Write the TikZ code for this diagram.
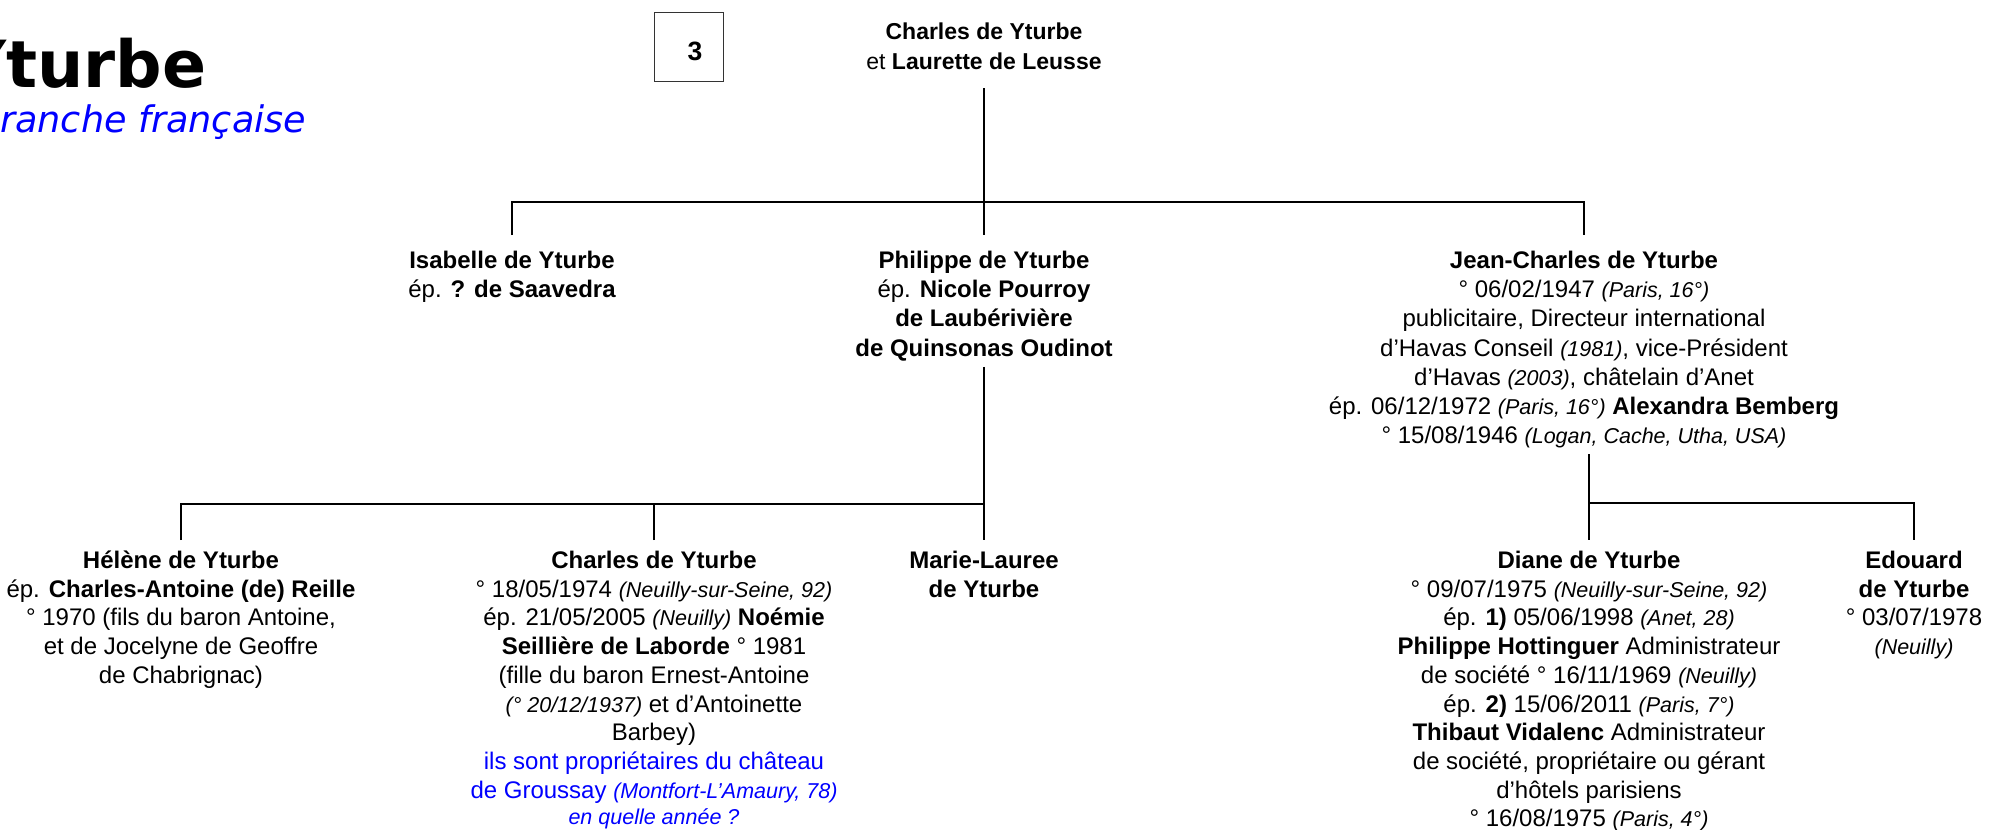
\documentclass[tikz,border=0pt]{standalone}
\usepackage{fontspec}
\setmainfont{Liberation Sans}
\newfontfamily\titlefont{DejaVu Sans}
\usepackage{tikz}
\definecolor{noteblue}{RGB}{0,0,255}
\newcommand{\lieu}[1]{{\fontsize{10.75}{14}\selectfont\itshape #1}}
\newcommand{\hname}[1]{\rule{0pt}{13.75pt}\textbf{#1}}
\tikzset{every picture/.style={line width=0.75pt}}
\tikzset{
  person/.style={align=center, anchor=north, inner sep=0pt},
  gen1/.style={person, outer sep=3pt, font=\fontsize{12}{14.6}\selectfont},
  gen2/.style={person, outer sep=0.5pt, font=\fontsize{12}{14.35}\selectfont},
  link/.style={line width=1.25pt},
}

\begin{document}
\begin{tikzpicture}[x=0.5pt,y=0.5pt,yscale=-1,xscale=1]
\useasboundingbox (0,0) rectangle (1992,830);

% Title
\node [anchor=base east, inner sep=0pt, font=\titlefont\bfseries\fontsize{32.5}{38}\selectfont] (title) at (207,87) {Yturbe};
\node [anchor=base east, inner sep=0pt, text=noteblue, font=\titlefont\itshape\fontsize{18.3}{22}\selectfont] (subtitle) at (307,132) {branche française};

%Shape: Square
\draw [line width=0.5pt, color=black!80] (654,12) rectangle (723,81);
% Text Node
\node [anchor=base, inner sep=0pt, font=\bfseries\fontsize{13.25}{15}\selectfont] (pagenum) at (695,61) {3};

% Text Node
\node [align=center, anchor=south, inner sep=0pt, outer sep=9pt, font=\fontsize{11.5}{15}\selectfont] (root) at (984,88) {{\bfseries Charles de Yturbe}\\ et {\bfseries Laurette de Leusse}};

% Text Node
\node [gen1] (isabelle) at (512,235) {\hname{Isabelle de Yturbe}\\ ép. {\bfseries ? de Saavedra}};
% Text Node
\node [gen1] (philippe) at (984,235) {\hname{Philippe de Yturbe}\\ ép. {\bfseries Nicole Pourroy}\\ {\bfseries de Laubérivière}\\ {\bfseries de Quinsonas Oudinot}};
% Text Node
\node [gen1] (jeancharles) at (1584,235) {\hname{Jean-Charles de Yturbe}\\
  ° 06/02/1947 \lieu{(Paris, 16°)}\\
  publicitaire, Directeur international\\
  d’Havas Conseil \lieu{(1981)}, vice-Président\\
  d’Havas \lieu{(2003)}, châtelain d’Anet\\
  ép. 06/12/1972 \lieu{(Paris, 16°)} {\bfseries Alexandra Bemberg}\\
  ° 15/08/1946 \lieu{(Logan, Cache, Utha, USA)}};

% Text Node
\node [gen2] (helene) at (181,540) {\hname{Hélène de Yturbe}\\
  ép. {\bfseries Charles-Antoine (de) Reille}\\
  ° 1970 (fils du baron Antoine,\\
  et de Jocelyne de Geoffre\\
  de Chabrignac)};
% Text Node
\node [gen2] (charles) at (654,540) {\hname{Charles de Yturbe}\\
  ° 18/05/1974 \lieu{(Neuilly-sur-Seine, 92)}\\
  ép. 21/05/2005 \lieu{(Neuilly)} {\bfseries Noémie}\\
  {\bfseries Seillière de Laborde} ° 1981\\
  (fille du baron Ernest-Antoine\\
  \lieu{(° 20/12/1937)} et d’Antoinette\\
  Barbey)\\
  \textcolor{noteblue}{ils sont propriétaires du château}\\
  \textcolor{noteblue}{de Groussay \lieu{(Montfort-L’Amaury, 78)}}\\[-1pt]
  \textcolor{noteblue}{\lieu{en quelle année ?}}};
% Text Node
\node [gen2] (marielauree) at (984,540) {\hname{Marie-Lauree}\\ {\bfseries de Yturbe}};
% Text Node
\node [gen2] (diane) at (1589,540) {\hname{Diane de Yturbe}\\
  ° 09/07/1975 \lieu{(Neuilly-sur-Seine, 92)}\\
  ép. {\bfseries 1)} 05/06/1998 \lieu{(Anet, 28)}\\
  {\bfseries Philippe Hottinguer} Administrateur\\
  de société ° 16/11/1969 \lieu{(Neuilly)}\\
  ép. {\bfseries 2)} 15/06/2011 \lieu{(Paris, 7°)}\\
  {\bfseries Thibaut Vidalenc} Administrateur\\
  de société, propriétaire ou gérant\\
  d’hôtels parisiens\\
  ° 16/08/1975 \lieu{(Paris, 4°)}};
% Text Node
\node [gen2] (edouard) at (1914,540) {\hname{Edouard}\\ {\bfseries de Yturbe}\\ ° 03/07/1978\\ \lieu{(Neuilly)}};

% Junctions
\coordinate (bar1) at (984,202);
\coordinate (bar2) at (984,504);
\coordinate (bar3) at (1589,503);

%Straight Lines
\draw [link] (root.south) -- (bar1) -- (philippe.north);
\draw [link] (isabelle.north) |- (bar1) -| (jeancharles.north);
%Straight Lines
\draw [link] (philippe.south) -- (bar2) -- (marielauree.north);
\draw [link] (helene.north) |- (bar2);
\draw [link] (charles.north) -- (charles.north |- bar2);
%Straight Lines
\draw [link] (jeancharles.south -| diane.north) -- (diane.north);
\draw [link] (bar3) -| (edouard.north);

\end{tikzpicture}
\end{document}
